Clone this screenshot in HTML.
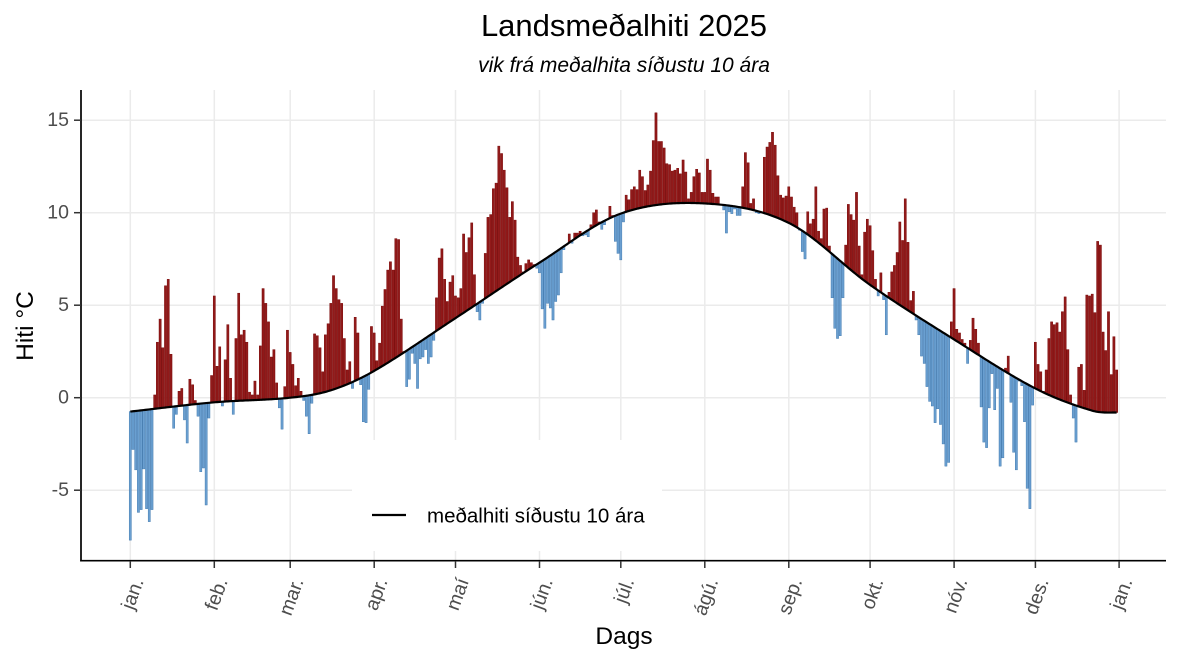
<!DOCTYPE html>
<html>
<head>
<meta charset="utf-8">
<style>
  html, body { margin: 0; padding: 0; background: #ffffff; }
  svg { display: block; }
  text { font-family: "Liberation Sans", Arial, sans-serif; }
</style>
</head>
<body>
<svg id="chart" xmlns="http://www.w3.org/2000/svg" width="1181" height="664" viewBox="0 0 1181 664">
  <rect x="0" y="0" width="1181" height="664" fill="#ffffff"/>

  <!-- grid -->
  <g stroke="#ebebeb" stroke-width="1.5" fill="none">
    <line x1="81" y1="120.2" x2="1166" y2="120.2"/>
    <line x1="81" y1="212.7" x2="1166" y2="212.7"/>
    <line x1="81" y1="305.2" x2="1166" y2="305.2"/>
    <line x1="81" y1="397.7" x2="1166" y2="397.7"/>
    <line x1="81" y1="490.2" x2="1166" y2="490.2"/>
    <line x1="130.3" y1="90" x2="130.3" y2="560"/>
    <line x1="214.3" y1="90" x2="214.3" y2="560"/>
    <line x1="290.2" y1="90" x2="290.2" y2="560"/>
    <line x1="374.2" y1="90" x2="374.2" y2="560"/>
    <line x1="455.5" y1="90" x2="455.5" y2="560"/>
    <line x1="539.5" y1="90" x2="539.5" y2="560"/>
    <line x1="620.8" y1="90" x2="620.8" y2="560"/>
    <line x1="704.8" y1="90" x2="704.8" y2="560"/>
    <line x1="788.8" y1="90" x2="788.8" y2="560"/>
    <line x1="870.1" y1="90" x2="870.1" y2="560"/>
    <line x1="954.1" y1="90" x2="954.1" y2="560"/>
    <line x1="1035.4" y1="90" x2="1035.4" y2="560"/>
    <line x1="1119.1" y1="90" x2="1119.1" y2="560"/>
  </g>

  <!-- legend box (covers grid) -->
  <rect x="352" y="440" width="310" height="111" fill="#ffffff"/>
  <line x1="372" y1="515" x2="406" y2="515" stroke="#000" stroke-width="2.2"/>
  <text x="427" y="522.5" font-size="20.5" fill="#000">meðalhiti síðustu 10 ára</text>

  <g id="bars"></g>
  <path id="curve" d="" fill="none" stroke="#000" stroke-width="2.2" stroke-linejoin="round"/>

  <!-- axes -->
  <line x1="81" y1="90" x2="81" y2="561.5" stroke="#000" stroke-width="1.7"/>
  <line x1="80.2" y1="560.7" x2="1166" y2="560.7" stroke="#000" stroke-width="1.7"/>

  <!-- y ticks -->
  <g stroke="#333" stroke-width="1.5">
    <line x1="74" y1="120.2" x2="81" y2="120.2"/>
    <line x1="74" y1="212.7" x2="81" y2="212.7"/>
    <line x1="74" y1="305.2" x2="81" y2="305.2"/>
    <line x1="74" y1="397.7" x2="81" y2="397.7"/>
    <line x1="74" y1="490.2" x2="81" y2="490.2"/>
  </g>
  <g font-size="19.5" fill="#4d4d4d" text-anchor="end" dominant-baseline="central">
    <text x="69" y="120.2">15</text>
    <text x="69" y="212.7">10</text>
    <text x="69" y="305.2">5</text>
    <text x="69" y="397.7">0</text>
    <text x="69" y="490.2">-5</text>
  </g>

  <!-- x ticks -->
  <g stroke="#333" stroke-width="1.5">
    <line x1="130.3" y1="561" x2="130.3" y2="568"/>
    <line x1="214.3" y1="561" x2="214.3" y2="568"/>
    <line x1="290.2" y1="561" x2="290.2" y2="568"/>
    <line x1="374.2" y1="561" x2="374.2" y2="568"/>
    <line x1="455.5" y1="561" x2="455.5" y2="568"/>
    <line x1="539.5" y1="561" x2="539.5" y2="568"/>
    <line x1="620.8" y1="561" x2="620.8" y2="568"/>
    <line x1="704.8" y1="561" x2="704.8" y2="568"/>
    <line x1="788.8" y1="561" x2="788.8" y2="568"/>
    <line x1="870.1" y1="561" x2="870.1" y2="568"/>
    <line x1="954.1" y1="561" x2="954.1" y2="568"/>
    <line x1="1035.4" y1="561" x2="1035.4" y2="568"/>
    <line x1="1119.1" y1="561" x2="1119.1" y2="568"/>
  </g>
  <g font-size="19.5" fill="#4d4d4d" text-anchor="end" dominant-baseline="central">
    <text transform="translate(138.3,579) rotate(-70)">jan.</text>
    <text transform="translate(222.3,579) rotate(-70)">feb.</text>
    <text transform="translate(298.2,579) rotate(-70)">mar.</text>
    <text transform="translate(382.2,579) rotate(-70)">apr.</text>
    <text transform="translate(463.5,579) rotate(-70)">maí</text>
    <text transform="translate(547.5,579) rotate(-70)">jún.</text>
    <text transform="translate(628.8,579) rotate(-70)">júl.</text>
    <text transform="translate(712.8,579) rotate(-70)">ágú.</text>
    <text transform="translate(796.8,579) rotate(-70)">sep.</text>
    <text transform="translate(878.1,579) rotate(-70)">okt.</text>
    <text transform="translate(962.1,579) rotate(-70)">nóv.</text>
    <text transform="translate(1043.4,579) rotate(-70)">des.</text>
    <text transform="translate(1127.1,579) rotate(-70)">jan.</text>
  </g>

  <!-- titles -->
  <text x="624" y="36" font-size="31" fill="#000" text-anchor="middle">Landsmeðalhiti 2025</text>
  <text x="624" y="72" font-size="21" font-style="italic" fill="#000" text-anchor="middle">vik frá meðalhita síðustu 10 ára</text>
  <text x="624" y="644" font-size="24.5" fill="#000" text-anchor="middle">Dags</text>
  <text transform="translate(33,326) rotate(-90)" font-size="24.5" fill="#000" text-anchor="middle">Hiti °C</text>
</svg>

<script>
(function(){
  var vals = [
  -7.7,-2.8,-3.9,-6.2,-6.05,-3.85,-6.0,-6.7,-6.05,0.15,
  3.0,4.25,2.7,6.05,6.4,2.35,-1.65,-0.9,0.35,0.5,
  -1.2,-2.45,1.0,0.7,-0.15,-1.0,-4.0,-3.8,-5.8,-1.1,
  1.2,5.5,1.7,2.75,-0.45,2.05,3.95,1.05,-0.9,3.2,
  5.65,3.4,3.65,3.0,0.3,0.15,0.9,0.15,2.8,5.9,
  5.1,4.1,2.2,2.6,0.8,-0.55,-1.7,0.6,3.65,2.45,
  1.8,0.65,1.05,0.35,-0.15,-1.0,-1.95,-0.3,3.45,3.35,
  2.7,1.4,3.4,4.0,5.1,6.6,5.9,5.3,5.1,3.2,
  1.5,1.95,0.5,4.35,3.5,0.7,-1.3,-1.35,0.45,3.85,
  3.5,2.0,2.95,4.95,5.85,6.9,7.35,6.9,8.6,8.55,
  4.25,2.5,0.6,1.0,2.4,1.85,0.5,2.1,2.2,2.6,
  1.85,2.2,3.1,5.4,7.55,8.05,6.4,5.2,6.25,6.6,
  5.5,5.4,5.9,8.85,7.85,8.65,9.45,6.65,4.65,4.2,
  5.1,7.8,9.75,9.9,11.3,11.6,13.6,13.2,12.3,11.35,
  9.75,10.6,9.6,7.6,7.15,6.8,7.25,7.45,7.3,7.2,
  7.0,6.75,4.8,3.75,5.1,4.85,4.2,5.2,5.55,6.75,
  8.0,8.25,8.85,8.35,8.9,8.9,9.0,8.75,8.8,8.7,
  9.35,10.0,10.15,9.5,9.1,9.35,9.6,10.35,9.85,8.45,
  7.8,7.45,9.5,10.95,10.7,11.25,11.4,11.25,12.3,11.95,
  11.2,11.5,12.25,13.9,15.4,13.85,13.85,13.5,12.65,12.6,
  12.25,12.3,12.4,12.1,12.85,12.2,10.75,11.1,11.95,12.35,
  12.15,11.1,11.1,12.9,12.3,11.05,10.85,10.85,10.4,10.15,
  8.9,10.05,9.95,10.2,9.85,9.85,11.4,13.25,12.7,10.5,
  10.75,10.0,9.95,10.05,13.0,13.55,13.8,14.35,13.65,12.0,
  10.95,10.8,10.9,11.4,10.85,10.3,10.0,9.05,7.9,7.5,
  10.05,9.4,9.65,11.4,9.0,8.6,10.2,10.25,8.2,5.4,
  3.75,3.2,3.35,5.4,8.25,10.45,9.9,9.6,11.1,8.2,
  6.65,8.95,9.65,9.3,7.95,6.4,5.5,6.75,5.3,3.4,
  5.7,6.8,7.15,7.85,9.5,8.5,10.75,8.4,5.25,5.75,
  4.2,3.4,2.25,1.85,0.6,-0.2,-0.45,-1.35,-0.6,-1.45,
  -2.5,-3.7,-3.5,4.1,5.9,3.7,3.5,3.15,2.95,1.85,
  3.1,4.3,3.7,2.95,-0.5,-2.4,-2.7,-0.55,1.3,-0.65,
  0.5,-3.7,-3.25,1.6,2.25,-0.25,-2.95,-3.9,0.9,0.65,
  -1.3,-4.9,-6.0,-0.4,3.0,1.8,1.4,0.35,1.5,3.2,
  4.1,3.95,4.05,3.55,4.65,5.45,2.6,0.15,-1.1,-2.4,
  1.65,1.8,0.4,5.55,5.5,5.6,4.6,8.45,8.25,3.55,
  2.55,4.65,1.25,3.3,1.5];

  var cp = [[1,-0.75],[32,-0.25],[60,0.0],[75,0.4],[91,1.45],[121,4.3],
    [152,7.3],[182,9.95],[213,10.5],[244,9.45],[274,6.1],[305,3.15],
    [335,0.5],[356,-0.7],[365,-0.8]];
  var n = cp.length, m = [];
  for (var i=0;i<n;i++){
    if (i===0) m.push((cp[1][1]-cp[0][1])/(cp[1][0]-cp[0][0]));
    else if (i===n-1) m.push(0);
    else m.push((cp[i+1][1]-cp[i-1][1])/(cp[i+1][0]-cp[i-1][0]));
  }
  function curve(d){
    if (d<=cp[0][0]) return cp[0][1];
    if (d>=cp[n-1][0]) return cp[n-1][1];
    for (var i=0;i<n-1;i++){
      if (d>=cp[i][0] && d<=cp[i+1][0]){
        var h = cp[i+1][0]-cp[i][0], t=(d-cp[i][0])/h;
        var t2=t*t, t3=t2*t;
        return (2*t3-3*t2+1)*cp[i][1] + (t3-2*t2+t)*h*m[i] + (-2*t3+3*t2)*cp[i+1][1] + (t3-t2)*h*m[i+1];
      }
    }
    return 0;
  }
  function X(d){ return 130.3 + (d-1)*2.7097; }
  function Y(v){ return 397.7 - 18.5*v; }

  var ns = "http://www.w3.org/2000/svg";
  var g = document.getElementById("bars");
  for (var d=1; d<=vals.length; d++){
    var c = curve(d), v = vals[d-1];
    var y1 = Y(c), y2 = Y(v);
    var top = Math.min(y1,y2), h = Math.abs(y2-y1);
    if (h < 0.6) h = 0.6;
    var r = document.createElementNS(ns, "rect");
    r.setAttribute("x", (X(d)-1.1).toFixed(2));
    r.setAttribute("y", top.toFixed(2));
    r.setAttribute("width", "2.2");
    r.setAttribute("height", h.toFixed(2));
    if (v > c){
      r.setAttribute("fill", "#921a1a");
      r.setAttribute("stroke", "#760404");
    } else {
      r.setAttribute("fill", "#6a9fd0");
      r.setAttribute("stroke", "#3f78ae");
    }
    r.setAttribute("stroke-width", "0.45");
    g.appendChild(r);
  }
  var p = "";
  for (var d2=1; d2<=365; d2+=0.5){
    p += (d2===1 ? "M" : "L") + X(d2).toFixed(2) + "," + Y(curve(d2)).toFixed(2);
  }
  document.getElementById("curve").setAttribute("d", p);
})();
</script>
</body>
</html>
